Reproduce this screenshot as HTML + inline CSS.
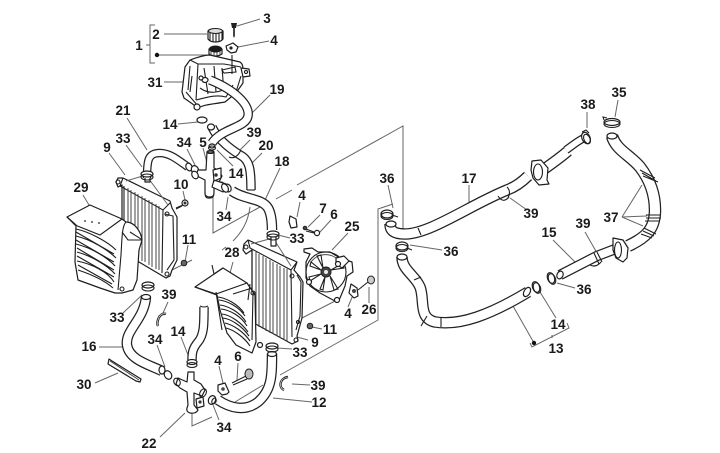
<!DOCTYPE html>
<html><head><meta charset="utf-8"><style>
html,body{margin:0;padding:0;background:#fff}
svg{display:block}
text{font:bold 13.5px "Liberation Sans",sans-serif;fill:#1a1a1a;text-anchor:middle}
.l{stroke:#666;stroke-width:1;fill:none}
.o{stroke:#222;fill:none}
.i{stroke:#fff;fill:none}
.p{stroke:#1e1e1e;stroke-width:1.2;fill:#fff;stroke-linejoin:round}
.t{stroke:#1e1e1e;stroke-width:1.1;fill:none}
.g{stroke:#444;stroke-width:1;fill:none}
#art{filter:blur(.3px)}
</style></head><body>
<svg width="720" height="453" viewBox="0 0 720 453" xmlns="http://www.w3.org/2000/svg">
<rect width="720" height="453" fill="#fff"/>
<g id="art">
<!-- long frame lines -->
<path class="l" d="M213,190V233L260,207M276,199L292,190M297,185L403,126V238"/>
<path class="l" d="M393,204L378,209V320L280,375M263,385L235,402"/>
<path class="l" d="M250,207C248,222 242,232 233,241M226,247L222,250"/>
<path class="l" d="M192,413V426L212,417M185,413L160,437"/>
<path class="l" d="M302,318L337,300M172,270L192,260"/>

<!-- leaders -->
<path class="l" d="M155,25H150V63H155M146,45H150M157,55H208M164,34H207M260,19L237,26M269,41L238,47M164,82H200M270,95L250,115M127,118L147,150M178,124L198,122M126,145L142,167M109,153L125,175M250,140L240,150M262,153L252,163M187,149L195,165M203,148L207,163M280,168L265,200M233,166L217,150M226,210L228,197M183,191L185,200M83,195L89,205"/>
<path class="l" d="M233,262L230,273M168,302L163,313M123,313L142,295M188,245L185,262M157,345L165,367M181,337L190,360M99,347H125M95,383L118,373M219,366L223,383M238,363L237,380M292,349L277,348M308,340L297,337M322,329L312,327M310,385L292,384M312,402L273,398M219,420L213,405M348,307L353,295M369,303V287M348,233L332,250M290,238L278,235M300,202L297,217M320,215L308,227M331,220L320,232"/>
<path class="l" d="M388,185L393,208M442,250L410,245M469,185V206M527,210L510,198M587,112V128M618,100L615,117M585,232L597,253M553,240L575,262M575,288L557,283M622,217L642,185M622,217L647,216M622,217L643,226M534,343L513,306M530,343L532,347L569,328L567,323M556,318L540,292M552,338V335"/>
<circle cx="157" cy="55" r="2.2" fill="#111"/>
<circle cx="534" cy="343" r="2.2" fill="#111"/>

<!-- tank -->
<path class="p" d="M190,60C198,57 204,55 210,55L240,62C243,64 243,67 243,72L243,83L236,93L225,102C215,104 205,104 198,108L194,105L184,98L182,92L185,67Z"/>
<path class="t" d="M190,60L198,64H224L241,67M198,64L196,100M196,100C205,98 215,94 226,97L233,85M192,76L190,92M204,68L208,94M222,68L224,92M200,88C208,94 220,94 228,86M186,92L198,106M190,66L188,90M214,66L216,92"/>
<ellipse class="p" cx="197" cy="107" rx="3" ry="3"/>
<path class="t" d="M222,70L235,67L236,72L224,73ZM232,74V55"/>
<path class="p" d="M241,68L249,69L250,76L243,77Z"/><circle class="t" cx="246" cy="72" r="1.500"/>
<path class="t" d="M241,76L236,92"/>
<ellipse class="p" cx="205" cy="80" rx="3" ry="2.500"/><ellipse class="p" cx="201" cy="78" rx="2" ry="2"/>
<!-- tank neck and cap -->
<path class="p" d="M209,49H222V54Q216,58 209,54Z"/>
<path class="g" d="M211,50V55M214,50V56M217,50V56M220,50V55"/>
<ellipse cx="215.500" cy="49" rx="6.500" ry="3.500" fill="#1a1a1a"/>
<path class="p" d="M208,31C210,28 220,28 223,31L223,39C220,43 211,43 208,39Z"/>
<path class="t" d="M210,32V41M213,32V42M216,32V42M219,32V42M222,32V40"/>
<ellipse cx="215.500" cy="31" rx="7" ry="2.500" fill="#ddd" stroke="#222"/>
<!-- bolt 3 and clip 4 -->
<path d="M231,23H237L236,28H232Z" fill="#222"/><path d="M233,28h2v8l-1,2l-1,-2z" fill="#444"/>
<path class="p" d="M226,46L233,43L238,47L236,52L231,53L227,50Z"/><circle cx="231" cy="48" r="1.600" fill="#222"/>

<!-- radiator 1 (left) -->
<path class="p" d="M123,178L170,201L172,208L177,217V260L172,270L170,276L166,278L122,252V185L118,187L116,182L118,178Z"/>
<path class="t" d="M123,178L120,186L163,210L170,203M163,210L162,273M124,186V250"/>
<path class="g" d="M128,188V253M131,190V255M135,192V257M138,194V258M142,196V261M145,198V262M149,200V265M152,202V267M156,204V269M159,206V270"/>
<path class="t" d="M165,214L173,216L174,260L167,270"/>
<circle class="t" cx="118" cy="182" r="2"/><circle class="t" cx="167" cy="214" r="2"/><circle class="t" cx="167" cy="274" r="2"/>
<path class="l" d="M126,181L146,175L168,205"/>
<path class="p" d="M145,172H150V182H145Z"/>
<!-- cover 29 -->
<path class="p" d="M67,217L90,205L122,219L126,222C135,222 141,232 142,240L139,250L137,280L133,290L122,293L115,293L100,288L78,280L75,262L76,225Z"/>
<path class="t" d="M67,217L75,225L100,235L122,219M126,222C122,226 122,238 121,255L118,290M130,232C136,236 140,238 142,240M122,232L128,240L142,240"/>
<path class="t" d="M76,229C90,232 108,242 116,250M76,236C92,240 108,250 116,258M76,244C92,248 108,258 115,266M77,252C92,256 108,266 115,274M77,261C92,264 108,272 114,282M78,270C90,274 104,280 113,288M76,232L114,254M76,240L114,262M77,248L114,270M77,256L114,277M78,265L112,284"/>
<circle cx="85" cy="221" r=".9" fill="#222"/><circle cx="92" cy="222" r=".9" fill="#222"/><circle cx="99" cy="223" r=".9" fill="#222"/>
<circle class="t" cx="122" cy="289" r="2"/>

<!-- radiator 2 (right) -->
<path class="p" d="M248,240L297,262L294,270L300,277L303,282L302,318L297,336L298,341L292,344L252,322V250L246,254L243,250L244,244Z"/>
<path class="t" d="M248,240L250,248L291,270L297,262M291,270L292,337M252,250V322"/>
<path class="g" d="M256,252V325M259,254V327M263,256V329M266,258V331M270,260V333M273,262V334M277,264V336M280,266V338M284,268V340M287,269V341"/>
<path class="t" d="M297,275L301,282L300,316L296,330"/>
<circle class="t" cx="246" cy="247" r="2"/><circle class="t" cx="292" cy="276" r="2"/><circle class="t" cx="296" cy="340" r="2"/><circle class="t" cx="298" cy="322" r="1.500"/>
<path class="l" d="M251,244L273,238L291,266"/>
<path class="p" d="M271,236H276V246H271Z"/>
<!-- cover 28 -->
<path class="p" d="M195,287L223,268L247,283L255,295L256,342L252,353L236,345L227,333L220,310L217,295Z"/>
<path class="t" d="M195,287L216,294L247,283M212,265L214,274L223,268M253,292L252,340M250,284L248,300M233,294L252,288M216,292L222,330"/>
<path class="t" d="M218,297C226,298 238,304 244,313M219,300C228,301 239,307 245,316M220,305C228,306 240,312 246,322M221,309C230,310 241,316 247,326M222,314C230,315 241,322 248,332M223,318C231,319 242,326 249,336M225,323C233,325 243,331 250,341M226,328C234,330 244,337 250,346"/>
<circle class="t" cx="253" cy="293" r="2"/><circle class="p" cx="260" cy="345" r="2.500"/>

<!-- fan 25 -->
<path class="p" d="M304,249L312,248L318,252H330L340,258L352,262L353,272L347,276L345,286L340,298L337,302L333,300L320,293L310,286L306,278L306,262L310,254L304,252Z"/>
<circle class="t" cx="326" cy="272" r="20"/>
<path class="g" d="M311,262A18,18 0 0 1 340,262"/>
<circle cx="326" cy="272" r="5" fill="#444" stroke="#222"/><circle cx="326" cy="272" r="2" fill="#eee"/>
<path class="t" d="M323,268L317,256L321,255ZM331,270L343,263L344,268ZM330,276L338,289L334,290ZM325,277L323,290L320,289ZM321,274L310,281L309,277ZM321,270L310,266L311,262Z"/>
<circle class="p" cx="309" cy="282" r="2.500"/><circle class="p" cx="337" cy="300" r="2.500"/>
<path class="p" d="M336,258L344,256L349,261L342,268L336,264Z"/>
<circle class="p" cx="338" cy="264" r="2.500"/>
<!-- clip and bolt at fan -->
<path class="p" d="M351,284L357,288L358,296L354,298L349,293Z"/><circle cx="354" cy="291" r="2" fill="#444"/>
<path class="t" d="M358,290L368,282"/><ellipse cx="371" cy="280" rx="3.500" ry="4" fill="#ccc" stroke="#222"/>

<!-- hoses -->
<path class="o" stroke-width="9.500" d="M212,127C218,140 232,150 240,155C250,160 251,170 251,190"/>
<path class="i" stroke-width="7" d="M212,127C218,140 232,150 240,155C250,160 251,170 251,190"/>
<ellipse class="p" cx="211" cy="127" rx="3.500" ry="3"/>
<path class="t" d="M247,190H255"/>
<path class="o" stroke-width="9.500" d="M210,80C235,90 250,105 248,116C246,128 222,128 212,143"/>
<path class="i" stroke-width="7" d="M210,80C235,90 250,105 248,116C246,128 222,128 212,143"/>
<path class="o" stroke-width="8.500" d="M147,178C147,160 148,153 160,153C170,153 178,160 188,167"/>
<path class="i" stroke-width="6" d="M147,178C147,160 148,153 160,153C170,153 178,160 188,167"/>
<path class="o" stroke-width="10.500" d="M232,191C245,200 262,198 268,208C272,215 272,225 272,230"/>
<path class="i" stroke-width="8" d="M232,191C245,200 262,198 268,208C272,215 272,225 272,230"/>
<path class="o" stroke-width="10.500" d="M146,297C144,320 125,330 127,345C129,360 150,365 162,371"/>
<path class="i" stroke-width="8" d="M146,297C144,320 125,330 127,345C129,360 150,365 162,371"/>
<ellipse class="p" cx="146" cy="297" rx="4.500" ry="2.500"/><ellipse class="p" cx="162" cy="370" rx="3" ry="4"/>
<path class="o" stroke-width="9.500" d="M204,307C204,325 204,335 198,342C193,348 192,352 192,360"/>
<path class="i" stroke-width="7" d="M204,307C204,325 204,335 198,342C193,348 192,352 192,360"/>
<path class="t" d="M200,306Q204,308 208,306"/>
<path class="o" stroke-width="10.500" d="M272,354C272,375 272,390 258,402C245,412 230,408 218,400"/>
<path class="i" stroke-width="8" d="M272,354C272,375 272,390 258,402C245,412 230,408 218,400"/>
<ellipse class="p" cx="272" cy="354" rx="4.500" ry="2.500"/>
<!-- right hoses -->
<path class="o" stroke-width="11.500" d="M390,224C390,232 396,234 405,234C430,234 470,205 507,190C515,187 522,182 528,176"/>
<path class="i" stroke-width="9" d="M390,224C390,232 396,234 405,234C430,234 470,205 507,190C515,187 522,182 528,176"/>
<ellipse class="p" cx="391" cy="224" rx="5" ry="3"/>
<path class="t" d="M418,228L421,235M507,187C510,190 510,194 508,198"/>
<path class="t" d="M498,196Q503,204 509,197"/>
<path class="o" stroke-width="11.500" d="M540,172C550,165 560,158 568,151"/>
<path class="i" stroke-width="9" d="M540,172C550,165 560,158 568,151"/>
<path class="o" stroke-width="8.500" d="M566,150C572,146 576,142 584,138"/>
<path class="i" stroke-width="6" d="M566,150C572,146 576,142 584,138"/>
<path class="p" d="M532,161L541,160L548,168L547,180L549,184L539,185L533,178L531,170Z"/>
<ellipse class="t" cx="538" cy="172" rx="4.500" ry="8"/>
<path class="o" stroke-width="12.500" d="M612,136C616,150 630,155 640,167C650,180 655,195 655,210C655,230 645,238 628,246"/>
<path class="i" stroke-width="10" d="M612,136C616,150 630,155 640,167C650,180 655,195 655,210C655,230 645,238 628,246"/>
<ellipse class="p" cx="612" cy="136" rx="5" ry="3"/>
<path class="t" d="M640,170L655,178M642,173L656,181M643,176L658,182M646,215H661M646,218H661M645,221H660M644,228L656,234M643,231L654,236M641,234L652,238"/>
<path class="o" stroke-width="10.500" d="M560,275L597,256L618,248"/>
<path class="i" stroke-width="8" d="M560,275L597,256L618,248"/>
<ellipse class="p" cx="560" cy="275" rx="3" ry="4" transform="rotate(25 560 275)"/>
<path class="t" d="M594,253L599,264M597,252L602,262M590,265Q596,268 601,262"/>
<path class="p" d="M613,238L623,240L628,248L627,258L623,262L616,258L613,250Z"/>
<ellipse class="t" cx="618" cy="250" rx="3.500" ry="8"/>
<path class="o" stroke-width="11.500" d="M402,257C402,270 415,275 420,287C425,300 418,318 435,322C460,326 490,315 528,292"/>
<path class="i" stroke-width="9" d="M402,257C402,270 415,275 420,287C425,300 418,318 435,322C460,326 490,315 528,292"/>
<ellipse class="p" cx="402" cy="257" rx="5" ry="3"/>
<ellipse class="p" cx="527" cy="292" rx="3" ry="5" transform="rotate(30 527 292)"/>
<path class="t" d="M414,280L421,277M427,316L421,326M441,317V327"/>

<!-- clamps -->
<ellipse class="p" cx="387" cy="214" rx="6" ry="4"/><ellipse class="t" cx="387" cy="216" rx="6" ry="3.500"/><path class="t" d="M392,215L398,217"/>
<ellipse class="p" cx="402" cy="246" rx="6" ry="4"/><ellipse class="t" cx="402" cy="248" rx="6" ry="3.500"/><path class="t" d="M407,248L412,250"/>
<ellipse class="p" cx="586" cy="138" rx="4" ry="6" transform="rotate(-25 586 138)"/><ellipse class="t" cx="587" cy="139" rx="3" ry="5" transform="rotate(-25 587 139)"/><path class="t" d="M582,132L586,130L589,133"/>
<ellipse class="p" cx="612" cy="122" rx="8" ry="3.500"/><ellipse class="t" cx="612" cy="124" rx="8" ry="3.500"/><path class="t" d="M604,120L603,117L607,118"/>
<ellipse class="p" cx="536" cy="287" rx="3.500" ry="5.500" transform="rotate(-20 536 287)"/><ellipse class="t" cx="537" cy="288" rx="3.500" ry="5.500" transform="rotate(-20 537 288)"/>
<ellipse class="p" cx="551" cy="278" rx="3.500" ry="5.500" transform="rotate(-20 551 278)"/><ellipse class="t" cx="552" cy="279" rx="3.500" ry="5.500" transform="rotate(-20 552 279)"/>
<ellipse class="p" cx="147" cy="174" rx="6" ry="3"/><ellipse class="t" cx="147" cy="177" rx="6" ry="3"/>
<ellipse class="p" cx="148" cy="285" rx="6" ry="3"/><ellipse class="t" cx="148" cy="288" rx="6" ry="3"/>
<ellipse class="p" cx="273" cy="234" rx="6" ry="3"/><ellipse class="t" cx="273" cy="237" rx="6" ry="3"/>
<ellipse class="p" cx="272" cy="346" rx="6" ry="3"/><ellipse class="t" cx="272" cy="349" rx="6" ry="3"/>
<ellipse class="p" cx="192" cy="362" rx="5" ry="2.500"/><ellipse class="t" cx="192" cy="365" rx="5" ry="2.500"/>
<ellipse class="p" cx="202" cy="120" rx="5" ry="3"/>
<ellipse class="p" cx="212" cy="146" rx="3" ry="2"/><ellipse class="t" cx="212" cy="148" rx="3.500" ry="2"/>
<!-- 34 clamps -->
<ellipse class="p" cx="189" cy="167" rx="3" ry="4" transform="rotate(-25 189 167)"/><ellipse class="p" cx="195" cy="170" rx="3.500" ry="4.500" transform="rotate(-25 195 170)"/>
<ellipse class="p" cx="228" cy="188" rx="3" ry="4" transform="rotate(-25 228 188)"/><ellipse class="p" cx="222" cy="186" rx="3" ry="4" transform="rotate(-25 222 186)"/>
<ellipse class="p" cx="168" cy="375" rx="3.500" ry="4.500" transform="rotate(-30 168 375)"/>
<ellipse class="p" cx="212" cy="400" rx="3.500" ry="4.500" transform="rotate(25 212 400)"/><ellipse class="t" cx="214" cy="401" rx="2" ry="3" transform="rotate(25 214 401)"/>

<!-- junction upper (5) -->
<path class="p" d="M207,152H214V168L218,170L222,176L218,184L214,182L214,192Q214,198 210,198H208Q205,198 205,192V180L199,177L196,175L198,170L206,170Z"/>
<ellipse class="t" cx="210.500" cy="152" rx="3.500" ry="1.500"/>
<ellipse class="p" cx="195" cy="175" rx="3" ry="4" transform="rotate(-30 195 175)"/>
<path class="p" d="M214,180L226,184L223,192L212,187Z"/><ellipse class="p" cx="225" cy="188" rx="3" ry="4.500" transform="rotate(-30 225 188)"/>
<path class="p" d="M213,170L221,168L221,178L214,181Z"/><circle cx="216" cy="175" r="1.800" fill="#333"/>
<path class="t" d="M205,195Q210,199 214,195"/>

<!-- junction lower (22) -->
<path class="p" d="M188,372H194V380L201,384L205,390L202,396L194,393V405L198,410Q196,414 190,413Q186,412 187,408L188,405L187,392L180,388L176,384L178,378L187,382Z"/>
<ellipse class="t" cx="177" cy="382" rx="3" ry="4" transform="rotate(-30 177 382)"/>
<ellipse class="t" cx="203" cy="393" rx="3" ry="4.500" transform="rotate(30 203 393)"/>
<path class="p" d="M196,399L203,397L204,406L197,408Z"/><circle cx="200" cy="402" r="1.600" fill="#333"/>

<!-- small parts -->
<circle class="p" cx="185" cy="203" r="3"/><circle cx="185" cy="203" r="1.500" fill="#333"/>
<path class="t" d="M182,206L176,209M183,205L176,208"/>
<circle cx="184" cy="263" r="2.800" fill="#666" stroke="#222"/>
<circle cx="310" cy="326" r="2.800" fill="#666" stroke="#222"/>
<path class="p" d="M290,216L296,219L297,227L291,228L289,222Z"/>
<circle cx="305" cy="228" r="1.800" fill="#444" stroke="#222"/>
<path class="t" d="M306,229L314,232M306,231L314,233"/><circle class="p" cx="317" cy="233" r="2.600"/>
<!-- bolt 6 lower -->
<ellipse cx="249" cy="374" rx="4" ry="5" fill="#bbb" stroke="#222"/>
<path class="t" d="M246,376L232,383M247,379L233,385"/>
<path class="p" d="M218,385L225,383L229,392L227,394L222,395L218,391Z"/><circle cx="223" cy="389" r="1.800" fill="#444"/>
<!-- 30 strip -->
<path class="p" d="M109,359L112,361L141,379L140,382L136,381L108,364Z"/>
<path class="g" d="M110,361L139,380"/>
<!-- 39 C-clips -->
<path fill="none" stroke="#222" stroke-width="2.400" d="M166,314C159,312 156,323 158,326"/>
<path fill="none" stroke="#fff" stroke-width=".6" d="M166,314C159,312 156,323 158,326"/>
<path fill="none" stroke="#222" stroke-width="2.400" d="M288,377C280,378 278,387 284,390"/>
<path fill="none" stroke="#fff" stroke-width=".6" d="M288,377C280,378 278,387 284,390"/>
<path class="t" d="M229,157Q236,160 241,150"/>
</g>
<!-- labels -->
<text x="139" y="50">1</text><text x="156" y="39">2</text><text x="267" y="23">3</text><text x="274" y="45">4</text>
<text x="155" y="87">31</text><text x="277" y="94">19</text><text x="123" y="115">21</text><text x="170" y="129">14</text>
<text x="254" y="137">39</text><text x="203" y="147">5</text><text x="266" y="150">20</text><text x="123" y="143">33</text>
<text x="107" y="152">9</text><text x="184" y="147">34</text><text x="236" y="178">14</text><text x="282" y="166">18</text>
<text x="224" y="221">34</text><text x="181" y="189">10</text><text x="81" y="192">29</text><text x="302" y="200">4</text>
<text x="323" y="213">7</text><text x="334" y="219">6</text><text x="297" y="243">33</text><text x="352" y="231">25</text>
<text x="189" y="244">11</text><text x="232" y="257">28</text><text x="169" y="299">39</text><text x="117" y="322">33</text>
<text x="348" y="318">4</text><text x="369" y="314">26</text><text x="315" y="347">9</text><text x="330" y="334">11</text>
<text x="178" y="336">14</text><text x="155" y="344">34</text><text x="89" y="351">16</text><text x="300" y="357">33</text>
<text x="238" y="361">6</text><text x="218" y="365">4</text><text x="84" y="389">30</text><text x="318" y="390">39</text>
<text x="319" y="407">12</text><text x="224" y="432">34</text><text x="149" y="448">22</text>
<text x="387" y="183">36</text><text x="469" y="183">17</text><text x="588" y="109">38</text><text x="619" y="97">35</text>
<text x="531" y="218">39</text><text x="611" y="222">37</text><text x="451" y="256">36</text><text x="583" y="228">39</text>
<text x="549" y="237">15</text><text x="584" y="294">36</text><text x="558" y="329">14</text><text x="556" y="353">13</text>
</svg>
</body></html>
